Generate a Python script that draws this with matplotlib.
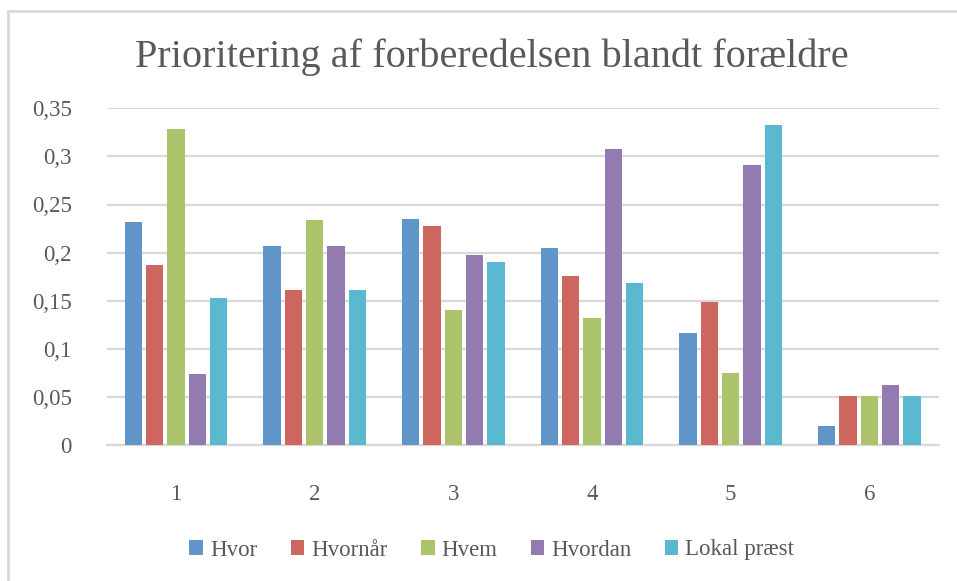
import numpy as np
import matplotlib.pyplot as plt
from matplotlib.patches import Rectangle
from matplotlib.ticker import FuncFormatter

categories = ['1', '2', '3', '4', '5', '6']
series_names = ['Hvor', 'Hvornår', 'Hvem', 'Hvordan', 'Lokal præst']
hvor = [0.232, 0.2065, 0.235, 0.205, 0.116, 0.020]
hvornaar = [0.187, 0.161, 0.228, 0.176, 0.149, 0.051]
hvem = [0.328, 0.234, 0.140, 0.132, 0.0745, 0.051]
hvordan = [0.0735, 0.2065, 0.197, 0.308, 0.291, 0.062]
lokal = [0.153, 0.161, 0.190, 0.168, 0.333, 0.051]
colors = ['#5F95C8', '#CD665F', '#ABC36A', '#937AB1', '#5BB8D1']

plt.rcParams['font.family'] = ['Liberation Serif', 'DejaVu Serif']
txt = '#595959'

fig = plt.figure(figsize=(9.57, 5.81), dpi=100)
fig.patches.append(Rectangle((8/957, -0.1), 1.2, 1 - 11/581 + 0.1, transform=fig.transFigure,
                             fill=False, edgecolor='#D9D9D9', linewidth=2))
ax = fig.add_axes([106.7/957, 1 - 445/581, (938.7 - 106.7)/957, (445 - 108.3)/581])

x = np.arange(len(categories))
pitch = 0.154
data = [hvor, hvornaar, hvem, hvordan, lokal]
for i, (name, vals) in enumerate(zip(series_names, data)):
    ax.bar(x + (i - 2) * pitch, vals, width=0.125, color=colors[i], linewidth=0,
           label=name, zorder=3)

ax.set_xlim(-0.5, 5.5)
ax.set_ylim(0, 0.35)
ax.set_yticks(np.arange(0, 0.351, 0.05))
ax.yaxis.set_major_formatter(FuncFormatter(lambda v, p: '0' if v == 0 else ('%g' % round(v, 2)).replace('.', ',')))
ax.set_xticks(x)
ax.set_xticklabels(categories)
ax.grid(axis='y', color='#D9D9D9', linewidth=1.6, zorder=0)
for s in ['top', 'right', 'left']:
    ax.spines[s].set_visible(False)
ax.spines['bottom'].set_color('#D9D9D9')
ax.spines['bottom'].set_linewidth(1.6)
ax.tick_params(length=0, labelsize=16.5, labelcolor=txt)
ax.tick_params(axis='y', pad=25)
ax.tick_params(axis='x', pad=28)

fig.text(0.514, 1 - 57/581, 'Prioritering af forberedelsen blandt forældre', ha='center', va='center',
         fontsize=29, color=txt)

leg = fig.legend(loc='center', bbox_to_anchor=(0.514, 1 - 550/581), ncol=5, frameon=False,
                 fontsize=16.5, handlelength=0.6, handleheight=0.6, handletextpad=0.3, columnspacing=1.45)
for t in leg.get_texts():
    t.set_color(txt)

fig.savefig('out.png', dpi=100)
